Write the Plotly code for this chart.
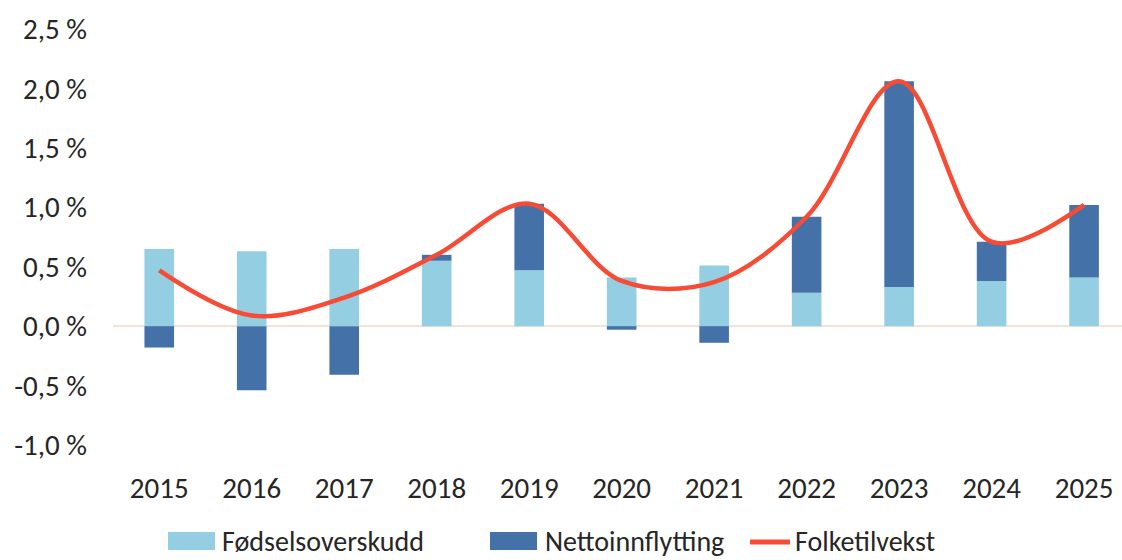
import plotly.graph_objects as go

years = ["2015", "2016", "2017", "2018", "2019", "2020", "2021", "2022", "2023", "2024", "2025"]
fodselsoverskudd = [0.65, 0.63, 0.65, 0.55, 0.47, 0.41, 0.51, 0.28, 0.33, 0.38, 0.41]
nettoinnflytting = [-0.18, -0.54, -0.41, 0.05, 0.56, -0.03, -0.14, 0.64, 1.73, 0.33, 0.61]
folketilvekst = [0.47, 0.09, 0.24, 0.60, 1.03, 0.38, 0.37, 0.92, 2.06, 0.71, 1.02]

y_ticks = [-1.0, -0.5, 0.0, 0.5, 1.0, 1.5, 2.0, 2.5]
y_labels = [f"{v:.1f}".replace(".", ",") + " %" for v in y_ticks]

names = ["Fødselsoverskudd", "Nettoinnflytting", "Folketilvekst"]
colors = ["#93CEE2", "#4472A8", "#F74B35"]

FONT = "Carlito, Calibri, Lato, Liberation Sans, sans-serif"
W, H = 1122, 560
L, R, T, B = 113, 0, 29, 115

fig = go.Figure()
fig.add_trace(go.Bar(x=years, y=fodselsoverskudd, name=names[0],
                     marker=dict(color=colors[0], line=dict(width=0)), width=0.32))
fig.add_trace(go.Bar(x=years, y=nettoinnflytting, name=names[1],
                     marker=dict(color=colors[1], line=dict(width=0)), width=0.32))
fig.add_trace(go.Scatter(x=years, y=folketilvekst, name=names[2], mode="lines",
                         line=dict(color=colors[2], width=4.5, shape="spline", smoothing=1.0)))

# custom legend (wide swatches as in the reference)
pw, ph = W - L - R, H - T - B
px = lambda p: (p - L) / pw
py = lambda p: (H - B - p) / ph
legend_y = 541
shapes = [
    dict(type="rect", xref="paper", yref="paper", x0=px(168), x1=px(215),
         y0=py(legend_y - 9), y1=py(legend_y + 9), fillcolor=colors[0], line=dict(width=0)),
    dict(type="rect", xref="paper", yref="paper", x0=px(490), x1=px(537),
         y0=py(legend_y - 9), y1=py(legend_y + 9), fillcolor=colors[1], line=dict(width=0)),
    dict(type="line", xref="paper", yref="paper", x0=px(750), x1=px(790),
         y0=py(legend_y + 1), y1=py(legend_y + 1), line=dict(color=colors[2], width=5)),
]
annotations = [
    dict(text=n, xref="paper", yref="paper", x=px(xs), y=py(legend_y), xanchor="left",
         yanchor="middle", showarrow=False, borderpad=0, font=dict(size=28))
    for n, xs in zip(names, [221, 544, 794])
]

fig.update_layout(
    width=W, height=H,
    barmode="relative",
    paper_bgcolor="white", plot_bgcolor="white",
    margin=dict(l=L, r=R, t=T, b=B, autoexpand=False),
    font=dict(family=FONT, size=29, color="#262626"),
    showlegend=False,
    shapes=shapes,
    annotations=annotations,
)
fig.update_xaxes(type="category", range=[-0.5, 10.41], showgrid=False, showline=False,
                 ticks="", zeroline=False, ticklabelstandoff=23, automargin=False,
                 tickfont=dict(size=29))
fig.update_yaxes(range=[-1.0, 2.5], tickvals=y_ticks, ticktext=y_labels, showgrid=False,
                 zeroline=True, zerolinecolor="#EFE3DA", zerolinewidth=2, showline=False,
                 ticks="", ticklabelstandoff=25, automargin=False, tickfont=dict(size=29))

fig.write_html(
    "out.html",
    config={"displayModeBar": False},
    post_script="document.body.style.margin='0';document.body.style.overflow='hidden';",
)
